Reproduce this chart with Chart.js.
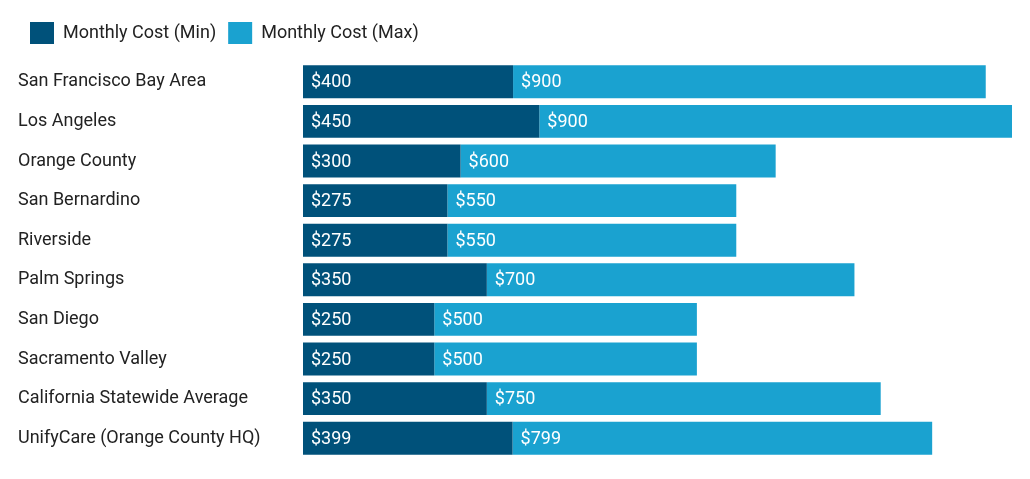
<!DOCTYPE html>
<html><head><script src="https://cdn.jsdelivr.net/npm/chart.js@4"></script>
<style>body{margin:0;background:#fff}#w{width:1030px;height:479px}</style></head>
<body><div id="w"><canvas id="c"></canvas></div>
<script>
const categories=["San Francisco Bay Area","Los Angeles","Orange County","San Bernardino","Riverside","Palm Springs","San Diego","Sacramento Valley","California Statewide Average","UnifyCare (Orange County HQ)"];
const minCost=[400,450,300,275,275,350,250,250,350,399];
const maxCost=[900,900,600,550,550,700,500,500,750,799];
const labelPlugin={id:'lbl',afterDatasetsDraw(ch){const ctx=ch.ctx;ctx.save();ctx.font='18px Roboto';ctx.fillStyle='#fff';ctx.textBaseline='middle';
ch.data.datasets.forEach((ds,i)=>{ch.getDatasetMeta(i).data.forEach((el,j)=>{ctx.fillText('$'+ds.data[j],el.base+8,el.y+1);});});ctx.restore();}};
new Chart(document.getElementById('c'),{type:'bar',
data:{labels:categories,datasets:[
{label:'Monthly Cost (Min)',data:minCost,backgroundColor:'#00517a',barPercentage:0.83,categoryPercentage:1},
{label:'Monthly Cost (Max)',data:maxCost,backgroundColor:'#1aa2d0',barPercentage:0.83,categoryPercentage:1}]},
options:{indexAxis:'y',responsive:true,maintainAspectRatio:false,animation:false,
layout:{padding:{left:18,right:18,bottom:21,top:10}},
scales:{x:{stacked:true,min:0,max:1350,display:false},
y:{stacked:true,grid:{display:false},border:{display:false},afterFit(s){s.width=285;},ticks:{crossAlign:'far',color:'#222',font:{family:'Roboto',size:18},padding:8}}},
plugins:{tooltip:{enabled:false},legend:{align:'start',labels:{boxWidth:24,boxHeight:22,color:'#222',font:{family:'Roboto',size:18},padding:12}}}},
plugins:[labelPlugin,{id:'lgpad',beforeInit(ch){const f=ch.legend.fit;ch.legend.fit=function(){f.bind(this)();this.height+=8;};}}]});
</script></body></html>
